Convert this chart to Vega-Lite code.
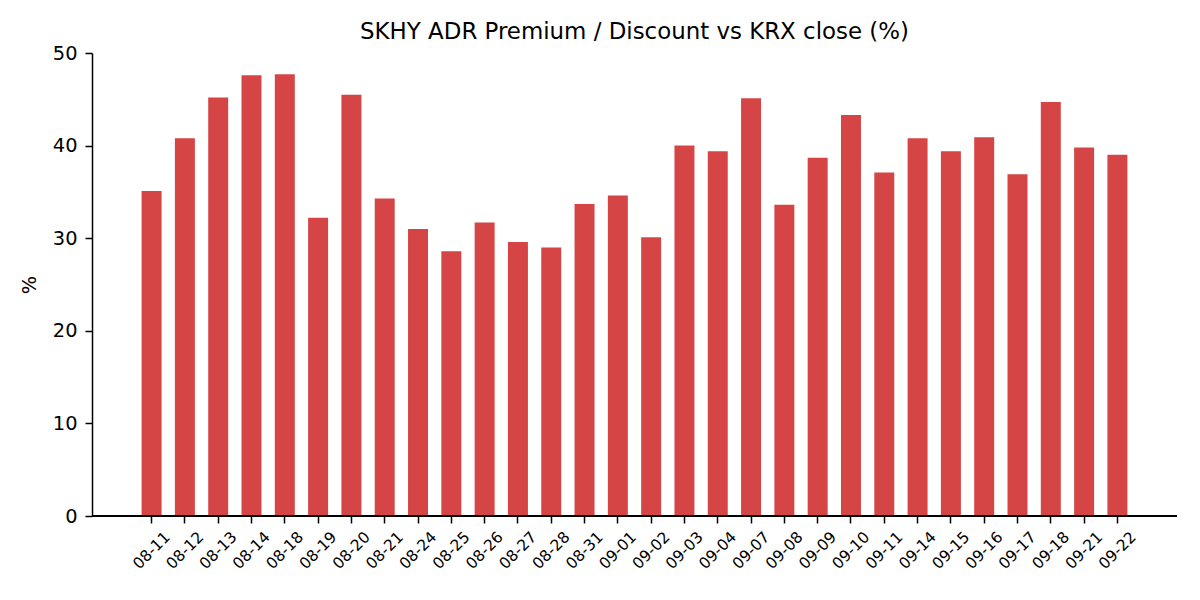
{
  "$schema": "https://vega.github.io/schema/vega-lite/v6.json",
  "autosize": "none",
  "width": 1085,
  "height": 463,
  "padding": {"left": 92, "top": 53, "right": 23, "bottom": 84},
  "background": "white",
  "config": {
    "font": "DejaVu Sans",
    "view": {"stroke": null},
    "axis": {"grid": false, "domainColor": "black", "tickColor": "black", "labelColor": "black", "titleColor": "black", "domainWidth": 1.5, "tickWidth": 1.5, "tickSize": 7}
  },
  "title": {"text": "SKHY ADR Premium / Discount vs KRX close (%)", "fontSize": 22.9, "fontWeight": "normal", "font": "DejaVu Sans", "color": "black", "offset": -1, "anchor": "middle"},
  "data": {"values": [
    {"date": "08-11", "pct": 35.1},
    {"date": "08-12", "pct": 40.8},
    {"date": "08-13", "pct": 45.2},
    {"date": "08-14", "pct": 47.6},
    {"date": "08-18", "pct": 47.7},
    {"date": "08-19", "pct": 32.2},
    {"date": "08-20", "pct": 45.5},
    {"date": "08-21", "pct": 34.3},
    {"date": "08-24", "pct": 31.0},
    {"date": "08-25", "pct": 28.6},
    {"date": "08-26", "pct": 31.7},
    {"date": "08-27", "pct": 29.6},
    {"date": "08-28", "pct": 29.0},
    {"date": "08-31", "pct": 33.7},
    {"date": "09-01", "pct": 34.6},
    {"date": "09-02", "pct": 30.1},
    {"date": "09-03", "pct": 40.0},
    {"date": "09-04", "pct": 39.4},
    {"date": "09-07", "pct": 45.1},
    {"date": "09-08", "pct": 33.6},
    {"date": "09-09", "pct": 38.7},
    {"date": "09-10", "pct": 43.3},
    {"date": "09-11", "pct": 37.1},
    {"date": "09-14", "pct": 40.8},
    {"date": "09-15", "pct": 39.4},
    {"date": "09-16", "pct": 40.9},
    {"date": "09-17", "pct": 36.9},
    {"date": "09-18", "pct": 44.7},
    {"date": "09-21", "pct": 39.8},
    {"date": "09-22", "pct": 39.0}
  ]},
  "layer": [
    {
      "mark": {"type": "bar", "color": "#d64545"},
      "encoding": {
        "x": {
          "field": "date", "type": "nominal", "sort": null,
          "scale": {"paddingInner": 0.4, "paddingOuter": 0, "range": [49.6, 1035.4]},
          "axis": {"title": null, "domain": false, "labelAngle": -45, "labelAlign": "center", "labelBaseline": "middle", "labelPadding": 27, "labelFontSize": 15.5}
        },
        "y": {
          "field": "pct", "type": "quantitative",
          "scale": {"domain": [0, 50], "nice": false},
          "axis": {"title": "%", "values": [0, 10, 20, 30, 40, 50], "labelFontSize": 19.4, "labelPadding": 8, "titleFontSize": 19.4, "titleFontWeight": "normal", "titlePadding": 13}
        }
      }
    },
    {
      "mark": {"type": "rule", "color": "black", "strokeWidth": 1.5},
      "encoding": {"y": {"datum": 0}}
    }
  ]
}
